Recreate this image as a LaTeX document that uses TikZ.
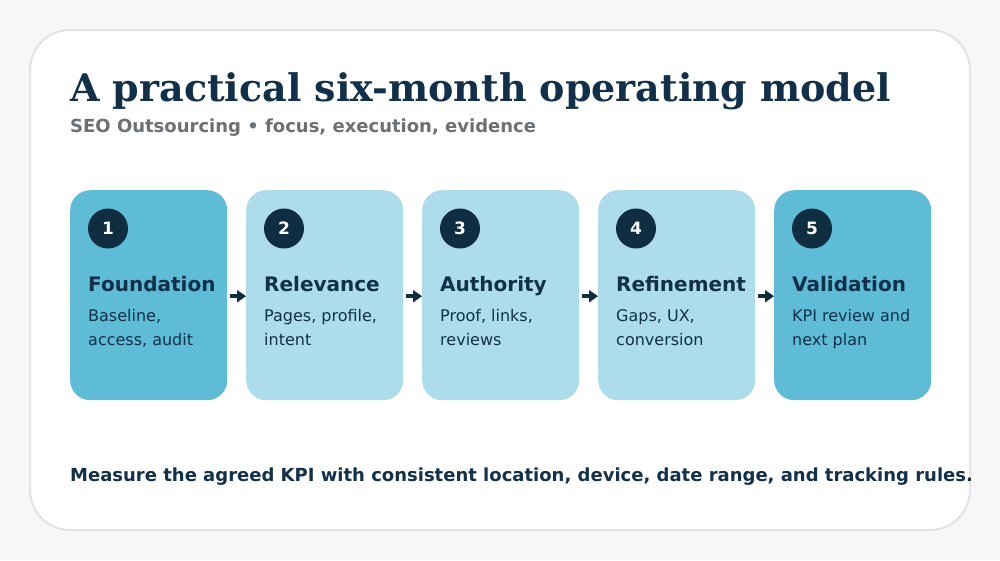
\documentclass[tikz,border=0pt]{standalone}
\usepackage{fontspec}
\setmainfont{DejaVu Sans}
\newfontfamily\titlefont{DejaVu Serif}
\usetikzlibrary{arrows.meta}
\definecolor{bgc}{HTML}{F7F7F5}
\definecolor{cardline}{HTML}{E2E4E4}
\definecolor{navy}{HTML}{0F2E42}
\definecolor{ink}{HTML}{12304A}
\definecolor{subgray}{HTML}{6B7075}
\definecolor{tealdark}{HTML}{5EBCD6}
\definecolor{teallight}{HTML}{ADDDEA}
\tikzset{
  stepbox/.style={rounded corners=20pt, minimum width=157pt, minimum height=210pt, anchor=north west, inner sep=0pt, draw=none},
  numdot/.style={circle, fill=navy, minimum size=40pt, inner sep=0pt, text=white, font=\bfseries\fontsize{17}{17}\selectfont},
  headtext/.style={anchor=base west, inner sep=0pt, text=ink, font=\bfseries\fontsize{20}{24}\selectfont},
  desctext/.style={anchor=base west, inner sep=0pt, text=ink, font=\fontsize{16}{24}\selectfont, align=left},
  flow/.style={navy, line width=4pt, -{Triangle[length=9pt,width=12pt]}, shorten <=3pt, shorten >=0pt}
}
\begin{document}
\begin{tikzpicture}[x=1pt,y=-1pt]
\fill[bgc] (0,0) rectangle (1000,560);
\useasboundingbox (0,0) rectangle (1000,560);
\draw[cardline, line width=2pt, fill=white, rounded corners=40pt] (30,30) rectangle (970,530);
\node[anchor=base west, inner sep=0pt, text=ink, font=\titlefont\bfseries\fontsize{38}{40}\selectfont] (title) at (70,101) {A practical six-month operating model};
\node[anchor=base west, inner sep=0pt, text=subgray, font=\bfseries\fontsize{18}{20}\selectfont] (sub) at (70,132) {SEO Outsourcing • focus, execution, evidence};
\foreach \i/\col/\hd/\la/\lb in {1/tealdark/Foundation/{Baseline,}/{access, audit},2/teallight/Relevance/{Pages, profile,}/intent,3/teallight/Authority/{Proof, links,}/reviews,4/teallight/Refinement/{Gaps, UX,}/conversion,5/tealdark/Validation/{KPI review and}/{next plan}}{
  \pgfmathsetmacro{\bx}{70+176*(\i-1)}
  \node[stepbox, fill=\col] (b\i) at (\bx,190) {};
  \node[numdot] (n\i) at (\bx+38,228.5) {\i};
  \node[headtext] (h\i) at (\bx+18,291) {\hd};
  \node[desctext] (d\i) at (\bx+18,321) {\la};
  \node[desctext] (e\i) at (\bx+18,345) {\lb};
}
\foreach \a/\b in {1/2,2/3,3/4,4/5}{
  \draw[flow] ([yshift=-1pt]b\a.east) -- ([yshift=-1pt]b\b.west);
}
\node[anchor=base west, inner sep=0pt, text=ink, font=\bfseries\fontsize{18}{20}\selectfont] (note) at (70,481) {Measure the agreed KPI with consistent location, device, date range, and tracking rules.};
\end{tikzpicture}
\end{document}
